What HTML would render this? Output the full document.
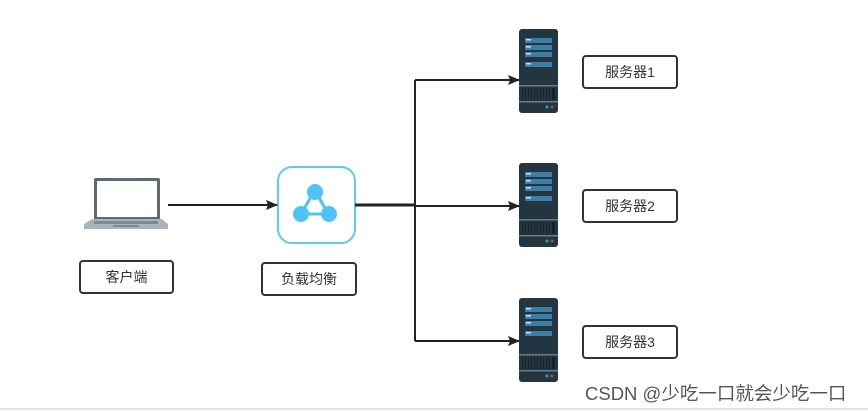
<!DOCTYPE html>
<html><head><meta charset="utf-8"><style>
body{margin:0;width:868px;height:413px;background:#fff;position:relative;overflow:hidden;font-family:"Liberation Sans","Noto Sans CJK SC",sans-serif}
.lbl{position:absolute;border:2px solid #333;border-radius:4px;box-sizing:border-box;display:flex;align-items:center;justify-content:center;font-size:14px;color:#333;background:#fff}
</style></head><body>
<svg width="868" height="413" style="position:absolute;left:0;top:0">
<defs>
<marker id="a" markerWidth="12" markerHeight="12" refX="11" refY="6" orient="auto" markerUnits="userSpaceOnUse"><path d="M0,1L12,6L0,11L2,6z" fill="#222"/></marker>
<g id="srv">
<rect x="0" y="0" width="39" height="84" rx="3" fill="#243542"/>
<rect x="6" y="9" width="27" height="5" fill="#3d7ea6"/><rect x="6" y="16" width="27" height="5" fill="#3d7ea6"/><rect x="6" y="23" width="27" height="5" fill="#3d7ea6"/><rect x="6" y="33" width="27" height="5" fill="#3d7ea6"/>
<rect x="7" y="10" width="5" height="1.5" fill="#cde"/><rect x="7" y="17" width="5" height="1.5" fill="#cde"/><rect x="7" y="24" width="5" height="1.5" fill="#cde"/><rect x="7" y="34" width="5" height="1.5" fill="#cde"/>
<rect x="0" y="56" width="39" height="1.5" fill="#6a7c88"/>
<rect x="3" y="59" width="33" height="12" fill="#16222b"/>
<path d="M5,59v12M8,59v12M11,59v12M14,59v12M17,59v12M20,59v12M23,59v12M26,59v12M29,59v12M32,59v12" stroke="#3a4a55" stroke-width="1"/>
<rect x="0" y="72" width="39" height="1.5" fill="#6a7c88"/>
<circle cx="28" cy="78" r="1.5" fill="#3a9"/><circle cx="33" cy="78" r="1.5" fill="#a47"/>
</g>
</defs>
<rect x="94" y="178" width="66" height="42" rx="2" fill="#5b6b78"/>
<rect x="97" y="181" width="60" height="36" fill="#fff"/>
<path d="M84,224 L92,219 L162,219 L168,224 L168,229 L84,229z" fill="#a9b4bc"/>
<rect x="94" y="221" width="64" height="3" fill="#7d8a94"/>
<rect x="113" y="225" width="26" height="2" fill="#7d8a94"/>
<rect x="278" y="167" width="77" height="76" rx="14" fill="#fff" stroke="#5ccbf5" stroke-width="2"/>
<path d="M315,190L301,214L328,214z" stroke="#4fc3f7" stroke-width="3" fill="none"/>
<circle cx="315" cy="192" r="8" fill="#4fc3f7"/><circle cx="301" cy="214" r="8" fill="#4fc3f7"/><circle cx="329" cy="214" r="8" fill="#4fc3f7"/>
<line x1="168" y1="205" x2="277" y2="205" stroke="#222" stroke-width="2" marker-end="url(#a)"/>
<line x1="355" y1="205" x2="416" y2="205" stroke="#222" stroke-width="3"/>
<path d="M415,341V80" stroke="#222" stroke-width="2" fill="none"/>
<line x1="415" y1="80" x2="519" y2="80" stroke="#222" stroke-width="2" marker-end="url(#a)"/>
<line x1="415" y1="206" x2="519" y2="206" stroke="#222" stroke-width="2" marker-end="url(#a)"/>
<line x1="415" y1="341" x2="519" y2="341" stroke="#222" stroke-width="2" marker-end="url(#a)"/>
<use href="#srv" x="519" y="29"/><use href="#srv" x="519" y="163"/><use href="#srv" x="519" y="298"/>
<line x1="0" y1="409" x2="868" y2="409" stroke="#e5e5e5" stroke-width="2"/>
</svg>
<div class="lbl" style="left:79px;top:260px;width:95px;height:34px">客户端</div>
<div class="lbl" style="left:261px;top:262px;width:96px;height:34px">负载均衡</div>
<div class="lbl" style="left:582px;top:55px;width:96px;height:34px">服务器1</div>
<div class="lbl" style="left:582px;top:189px;width:96px;height:34px">服务器2</div>
<div class="lbl" style="left:582px;top:325px;width:96px;height:34px">服务器3</div>
<div style="position:absolute;left:585px;top:380px;font-size:18.5px;color:#555;white-space:nowrap">CSDN @少吃一口就会少吃一口</div>
</body></html>
